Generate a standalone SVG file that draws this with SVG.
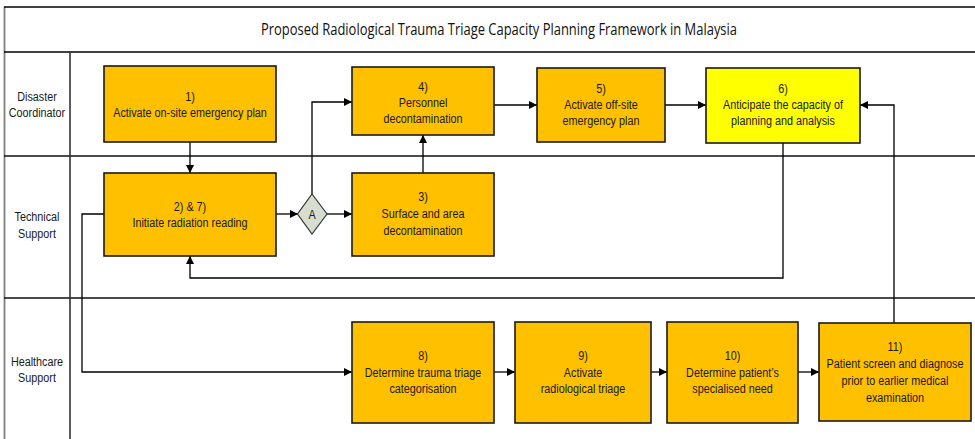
<svg xmlns="http://www.w3.org/2000/svg" width="975" height="439" viewBox="0 0 975 439">
<defs>
<style>
.frame{stroke:#000;stroke-width:1.5;fill:none}
.lane{stroke:#111;stroke-width:1.5;fill:none}
.box{fill:#FFC000;stroke:#1a1a1a;stroke-width:1.6}
.box6{fill:#FFFF00;stroke:#1a1a1a;stroke-width:1.6}
.dia{fill:#D8DECF;stroke:#333;stroke-width:1.2}
.t{font-family:"Liberation Sans",Arial,sans-serif;font-size:13.5px;fill:#1a1a1a;text-anchor:middle}
.title{font-family:"Open Sans","Liberation Sans",sans-serif;font-size:16.5px;fill:#111}
.con{stroke:#000;stroke-width:1.3;fill:none;marker-end:url(#arr)}
</style>
<marker id="arr" viewBox="0 0 10 10" refX="10" refY="5" markerWidth="8" markerHeight="8" markerUnits="userSpaceOnUse" orient="auto">
<path d="M0,0 L10,5 L0,10 z" fill="#000"/>
</marker>
</defs>
<rect width="975" height="439" fill="#fff"/>
<g id="frame">
<line x1="4.5" y1="7" x2="4.5" y2="439" stroke="#808080" stroke-width="1.8"/>
<line x1="4" y1="7" x2="975" y2="7" class="frame"/>
<line x1="4" y1="52" x2="975" y2="52" class="frame"/>
<line x1="4" y1="156" x2="975" y2="156" class="lane"/>
<line x1="4" y1="298" x2="975" y2="298" class="lane"/>
<line x1="70" y1="52" x2="70" y2="439" stroke="#333" stroke-width="1.6"/>
<text class="title" x="499" y="35" text-anchor="middle" textLength="476" lengthAdjust="spacingAndGlyphs">Proposed Radiological Trauma Triage Capacity Planning Framework in Malaysia</text>
</g>
<g id="lanes">
<text class="t" transform="translate(37 0) scale(0.8 1)"><tspan x="0" y="101">Disaster</tspan><tspan x="0" y="117">Coordinator</tspan></text>
<text class="t" transform="translate(37 0) scale(0.8 1)"><tspan x="0" y="221">Technical</tspan><tspan x="0" y="238">Support</tspan></text>
<text class="t" transform="translate(37 0) scale(0.8 1)"><tspan x="0" y="366">Healthcare</tspan><tspan x="0" y="382">Support</tspan></text>
</g>
<g id="connectors">
<path class="con" d="M190,142 V173"/>
<path class="con" d="M276,214 H298"/>
<path class="con" d="M327,214 H352"/>
<path class="con" d="M312,194 V102 H352"/>
<path class="con" d="M423,173 V135"/>
<path class="con" d="M494,105 H537"/>
<path class="con" d="M665,105 H706"/>
<path class="con" d="M894,323 V105 H860"/>
<path class="con" d="M783,143 V278 H190 V256"/>
<path class="con" d="M104,214 H82 V372 H352"/>
<path class="con" d="M494,372 H515"/>
<path class="con" d="M651,372 H667"/>
<path class="con" d="M798,372 H819"/>
</g>
<g id="n1">
<rect class="box" x="104" y="66" width="172" height="76"/>
<text class="t" transform="translate(190 0) scale(0.8 1)"><tspan x="0" y="101">1)</tspan><tspan x="0" y="117">Activate on-site emergency plan</tspan></text>
</g>
<g id="n4">
<rect class="box" x="352" y="67" width="142" height="68"/>
<text class="t" transform="translate(423 0) scale(0.8 1)"><tspan x="0" y="91">4)</tspan><tspan x="0" y="107">Personnel</tspan><tspan x="0" y="123">decontamination</tspan></text>
</g>
<g id="n5">
<rect class="box" x="537" y="68" width="128" height="74"/>
<text class="t" transform="translate(601 0) scale(0.8 1)"><tspan x="0" y="93">5)</tspan><tspan x="0" y="109">Activate off-site</tspan><tspan x="0" y="125">emergency plan</tspan></text>
</g>
<g id="n6">
<rect class="box6" x="706" y="68" width="154" height="75"/>
<text class="t" transform="translate(783 0) scale(0.8 1)"><tspan x="0" y="93">6)</tspan><tspan x="0" y="109">Anticipate the capacity of</tspan><tspan x="0" y="125">planning and analysis</tspan></text>
</g>
<g id="n2">
<rect class="box" x="104" y="173" width="172" height="83"/>
<text class="t" transform="translate(190 0) scale(0.8 1)"><tspan x="0" y="211">2) &amp; 7)</tspan><tspan x="0" y="227">Initiate radiation reading</tspan></text>
</g>
<g id="nA">
<path class="dia" d="M312,194 L327,214 L312,234 L297.5,214 z"/>
<text class="t" transform="translate(312 0) scale(0.8 1)"><tspan x="0" y="219">A</tspan></text>
</g>
<g id="n3">
<rect class="box" x="352" y="173" width="142" height="83"/>
<text class="t" transform="translate(423 0) scale(0.8 1)"><tspan x="0" y="201">3)</tspan><tspan x="0" y="218">Surface and area</tspan><tspan x="0" y="235">decontamination</tspan></text>
</g>
<g id="n8">
<rect class="box" x="352" y="322" width="142" height="101"/>
<text class="t" transform="translate(423 0) scale(0.8 1)"><tspan x="0" y="360">8)</tspan><tspan x="0" y="377">Determine trauma triage</tspan><tspan x="0" y="393">categorisation</tspan></text>
</g>
<g id="n9">
<rect class="box" x="515" y="322" width="136" height="101"/>
<text class="t" transform="translate(583 0) scale(0.8 1)"><tspan x="0" y="360">9)</tspan><tspan x="0" y="377">Activate</tspan><tspan x="0" y="393">radiological triage</tspan></text>
</g>
<g id="n10">
<rect class="box" x="667" y="322" width="131" height="101"/>
<text class="t" transform="translate(732.5 0) scale(0.8 1)"><tspan x="0" y="360">10)</tspan><tspan x="0" y="377">Determine patient’s</tspan><tspan x="0" y="393">specialised need</tspan></text>
</g>
<g id="n11">
<rect class="box" x="819" y="323" width="152" height="98"/>
<text class="t" transform="translate(895 0) scale(0.8 1)"><tspan x="0" y="351">11)</tspan><tspan x="0" y="368">Patient screen and diagnose</tspan><tspan x="0" y="385">prior to earlier medical</tspan><tspan x="0" y="402">examination</tspan></text>
</g>
</svg>
